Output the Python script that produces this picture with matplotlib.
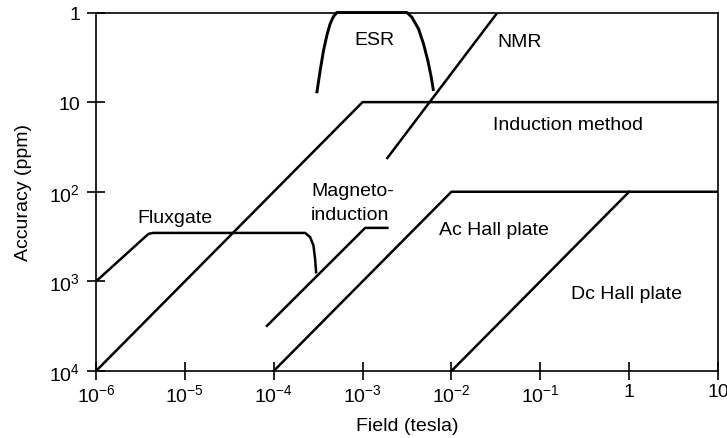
import matplotlib
matplotlib.use("Agg")
import matplotlib.pyplot as plt

plt.rcParams["font.family"] = ["Liberation Sans", "DejaVu Sans"]
plt.rcParams["mathtext.fontset"] = "custom"
plt.rcParams["mathtext.rm"] = "Liberation Sans"
plt.rcParams["mathtext.it"] = "Liberation Sans:italic"

# field (tesla) vs accuracy (ppm)
fluxgate_x = [1e-6, 3.9e-6, 4.4e-6, 2.26e-4, 2.57e-4, 2.8e-4, 2.92e-4, 3.0e-4]
fluxgate_y = [1000, 295, 288, 288, 321, 398, 560, 790]

induction_x = [1e-6, 1e-3, 10]
induction_y = [1e4, 10, 10]

magneto_x = [8.4e-5, 1.07e-3, 1.9e-3]
magneto_y = [3130, 253, 253]

ac_hall_x = [1e-4, 1e-2, 10]
ac_hall_y = [1e4, 100, 100]

dc_hall_x = [1e-2, 1]
dc_hall_y = [1e4, 100]

nmr_x = [1.9e-3, 3.3e-2]
nmr_y = [42, 1]

esr_x = [3.05e-4, 3.33e-4, 3.63e-4, 3.96e-4, 4.31e-4, 4.7e-4, 5.14e-4,
         3.16e-3, 3.59e-3, 4.27e-3, 4.85e-3, 5.43e-3, 5.93e-3, 6.28e-3]
esr_y = [7.96, 4.46, 2.67, 1.81, 1.34, 1.11, 1.0,
         1.0, 1.13, 1.53, 2.24, 3.45, 5.28, 7.5]

labels = ["ESR", "NMR", "Induction method", "Magneto-", "induction",
          "Fluxgate", "Ac Hall plate", "Dc Hall plate"]
label_x = [1.35e-3, 3.28e-2, 2.96e-2, 2.64e-4, 2.64e-4, 2.9e-6, 7.3e-3, 0.223]
label_y = [2.24, 2.36, 19.9, 108, 200, 217, 294, 1524]
label_ha = ["center", "left", "left", "left", "left", "left", "left", "left"]

xticks = [1e-6, 1e-5, 1e-4, 1e-3, 1e-2, 1e-1, 1, 10]
xticklabels = [r"$10^{-6}$", r"$10^{-5}$", r"$10^{-4}$", r"$10^{-3}$",
               r"$10^{-2}$", r"$10^{-1}$", "1", "10"]
yticks = [1, 10, 100, 1000, 10000]
yticklabels = ["1", "10", r"$10^{2}$", r"$10^{3}$", r"$10^{4}$"]

fig = plt.figure(figsize=(7.27, 4.39), dpi=100)
ax = fig.add_axes([96 / 727, 1 - 372 / 439, 622 / 727, (372 - 13.5) / 439])

lw = 1.8
for xs, ys in [(fluxgate_x, fluxgate_y), (induction_x, induction_y),
               (magneto_x, magneto_y), (ac_hall_x, ac_hall_y),
               (dc_hall_x, dc_hall_y), (nmr_x, nmr_y)]:
    ax.plot(xs, ys, color="black", lw=lw, solid_joinstyle="round")
ax.plot(esr_x, esr_y, color="black", lw=lw + 0.3, clip_on=False,
        solid_joinstyle="round", solid_capstyle="butt")

for t, x, y, ha in zip(labels, label_x, label_y, label_ha):
    ax.text(x, y, t, ha=ha, va="baseline", fontsize=14)

ax.set_xscale("log")
ax.set_yscale("log")
ax.set_xlim(1e-6, 10)
ax.set_ylim(1e4, 1)
ax.set_xticks(xticks, labels=xticklabels)
ax.set_yticks(yticks, labels=yticklabels)
ax.minorticks_off()
ax.tick_params(axis="both", direction="inout", length=13, width=1.2,
               labelsize=14)
ax.tick_params(axis="x", pad=2)
ax.tick_params(axis="y", pad=5)
for s in ax.spines.values():
    s.set_linewidth(1.2)

ax.set_xlabel("Field (tesla)", fontsize=14, labelpad=9)
ax.set_ylabel("Accuracy (ppm)", fontsize=14, labelpad=12)

fig.savefig("out.png", dpi=100)
